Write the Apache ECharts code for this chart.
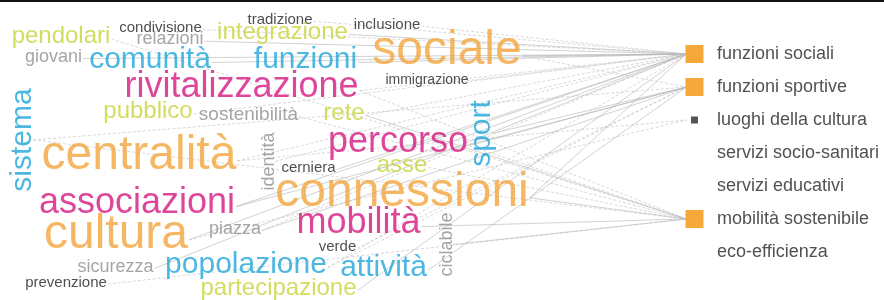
<!DOCTYPE html>
<html>
<head>
<meta charset="utf-8">
<script src="https://cdn.jsdelivr.net/npm/echarts@6/dist/echarts.min.js"></script>
<style>
  html, body { margin: 0; padding: 0; background: #fff; }
  #chart { width: 884px; height: 300px; }
</style>
</head>
<body>
<div id="chart"></div>
<script>
// words of the cloud, with their weight (font size) and colour group
const words = ['tradizione', 'condivisione', 'inclusione', 'pendolari', 'relazioni', 'integrazione', 'sociale',
  'giovani', 'comunità', 'funzioni', 'rivitalizzazione', 'immigrazione', 'sistema', 'pubblico', 'sostenibilità',
  'rete', 'sport', 'percorso', 'centralità', 'identità', 'cerniera', 'asse', 'connessioni', 'associazioni',
  'mobilità', 'cultura', 'piazza', 'ciclabile', 'verde', 'sicurezza', 'popolazione', 'attività', 'prevenzione',
  'partecipazione']
const weights = [15, 15, 15, 24, 18, 24, 48, 18, 30, 30, 36, 14, 30, 24, 19, 24, 30, 36, 48, 18, 15, 24, 48, 36,
  36, 48, 18, 18, 15, 18, 30, 30, 15, 24]
const groups = ['k', 'k', 'k', 'lime', 'grey', 'lime', 'orange', 'grey', 'blue', 'blue', 'magenta', 'k', 'blue',
  'lime', 'grey', 'lime', 'blue', 'magenta', 'orange', 'grey', 'k', 'lime', 'orange', 'magenta', 'magenta',
  'orange', 'grey', 'grey', 'k', 'grey', 'blue', 'blue', 'k', 'lime']
const vertical = ['sistema', 'sport', 'identità', 'ciclabile']

// cloud layout (centre of each word)
const layoutX = [280, 160.5, 387, 61, 170, 282.5, 447, 53.5, 150, 305.5, 241.5, 427, 22.5, 148, 248.5, 344, 481.5,
  398, 139, 269, 308.5, 402, 402, 137, 358.5, 116, 235, 446.7, 337.5, 115.5, 246, 383.5, 66, 278.5]
const layoutY = [19.6, 28, 24.7, 36.6, 39.4, 32, 51, 56.7, 59.5, 59.5, 87, 80, 140, 111.6, 114.7, 113, 133.5, 142,
  156, 161.5, 168, 165, 193, 203, 223, 235, 228.7, 244.5, 246.5, 266.7, 264.5, 267.5, 282.6, 288]

// categories on the right
const categories = ['funzioni sociali', 'funzioni sportive', 'luoghi della cultura', 'servizi socio-sanitari',
  'servizi educativi', 'mobilità sostenibile', 'eco-efficienza']
const categoryMark = ['big', 'big', 'small', 'none', 'none', 'big', 'none']

// links word -> category index, dashed or not
const links = [
  ['sociale', 0, false], ['sociale', 1, true], ['inclusione', 0, true], ['tradizione', 0, true],
  ['integrazione', 0, false], ['condivisione', 0, true], ['relazioni', 0, false], ['pendolari', 5, true],
  ['giovani', 0, false], ['comunità', 0, false], ['funzioni', 0, false], ['rivitalizzazione', 0, true],
  ['rivitalizzazione', 5, true], ['immigrazione', 0, true], ['sistema', 1, true], ['sistema', 5, true],
  ['pubblico', 0, true], ['sostenibilità', 5, true], ['rete', 0, true], ['rete', 5, false], ['sport', 1, false],
  ['percorso', 5, true], ['percorso', 1, false], ['centralità', 0, true], ['centralità', 2, true],
  ['identità', 0, true], ['cerniera', 0, false], ['asse', 5, true], ['connessioni', 5, false],
  ['connessioni', 0, false], ['associazioni', 0, false], ['associazioni', 1, false], ['mobilità', 5, false],
  ['cultura', 2, true], ['cultura', 0, false], ['piazza', 0, true], ['piazza', 1, false], ['ciclabile', 5, false],
  ['verde', 1, true], ['sicurezza', 0, false], ['popolazione', 0, true], ['popolazione', 1, true],
  ['attività', 1, false], ['prevenzione', 5, true], ['partecipazione', 0, false]
]

const palette = {
  k: '#222222',
  grey: '#8e8e8e',
  lime: '#c6d43a',
  orange: '#f3a53d',
  blue: '#1fa6da',
  magenta: '#d4187f',
}
const FONT = '"Liberation Sans", Arial, sans-serif'
const nodeX = 694.5
const textX = 717
const rowY = (i) => 54 + i * 33

const chart = echarts.init(document.getElementById('chart'), null, { renderer: 'canvas' })

// measure word widths so that links start at the right end of each word
const ctx = document.createElement('canvas').getContext('2d')
function linkStart(idx) {
  const fs = weights[idx]
  if (vertical.includes(words[idx])) {
    return [layoutX[idx] + fs * 0.35, layoutY[idx]]
  }
  ctx.font = fs + 'px ' + FONT
  const w = ctx.measureText(words[idx]).width
  return [layoutX[idx] + w / 2 + 1, layoutY[idx] + fs * 0.1]
}

const solidLinks = []
const dashedLinks = []
links.forEach(([word, cat, dashed]) => {
  const idx = words.indexOf(word)
  const item = { coords: [linkStart(idx), [nodeX - 8, rowY(cat)]] }
  if (dashed) dashedLinks.push(item)
  else solidLinks.push(item)
})

const wordData = words.map((w, i) => ({
  name: w,
  value: [layoutX[i], layoutY[i]],
  label: {
    fontSize: weights[i],
    color: palette[groups[i]],
    rotate: vertical.includes(w) ? 90 : 0,
  },
}))

const markSize = { big: 18, small: 7, none: 0 }
const markColor = { big: '#f7a83a', small: '#555555', none: 'transparent' }

const option = {
  backgroundColor: '#fff',
  animation: false,
  grid: { left: 0, right: 0, top: 0, bottom: 0 },
  xAxis: { type: 'value', min: 0, max: 884, show: false },
  yAxis: { type: 'value', min: 0, max: 300, inverse: true, show: false },
  graphic: [
    {
      type: 'line',
      shape: { x1: 0, y1: 1, x2: 884, y2: 1 },
      style: { stroke: '#111', lineWidth: 2 },
    },
  ],
  series: [
    {
      type: 'lines',
      coordinateSystem: 'cartesian2d',
      silent: true,
      z: 1,
      lineStyle: { color: '#b4b4b4', width: 0.6, opacity: 1 },
      data: solidLinks,
    },
    {
      type: 'lines',
      coordinateSystem: 'cartesian2d',
      silent: true,
      z: 1,
      lineStyle: { color: '#bdbdbd', width: 0.6, type: [3, 2], opacity: 1 },
      data: dashedLinks,
    },
    {
      type: 'scatter',
      silent: true,
      z: 3,
      symbolSize: 0,
      label: {
        show: true,
        position: [0, 0],
        align: 'center',
        verticalAlign: 'middle',
        fontFamily: FONT,
        formatter: (p) => p.name,
      },
      data: wordData,
    },
    {
      type: 'scatter',
      silent: true,
      z: 4,
      symbol: 'rect',
      data: categories.map((c, i) => ({
        name: c,
        value: [nodeX, rowY(i)],
        symbolSize: markSize[categoryMark[i]],
        itemStyle: { color: markColor[categoryMark[i]], opacity: 1 },
      })),
    },
    {
      type: 'scatter',
      silent: true,
      z: 4,
      symbolSize: 0,
      label: {
        show: true,
        position: [0, 0],
        align: 'left',
        verticalAlign: 'middle',
        fontFamily: FONT,
        fontSize: 18,
        color: '#262626',
        formatter: (p) => p.name,
      },
      data: categories.map((c, i) => ({ name: c, value: [textX, rowY(i)] })),
    },
  ],
}

chart.setOption(option)
</script>
</body>
</html>
